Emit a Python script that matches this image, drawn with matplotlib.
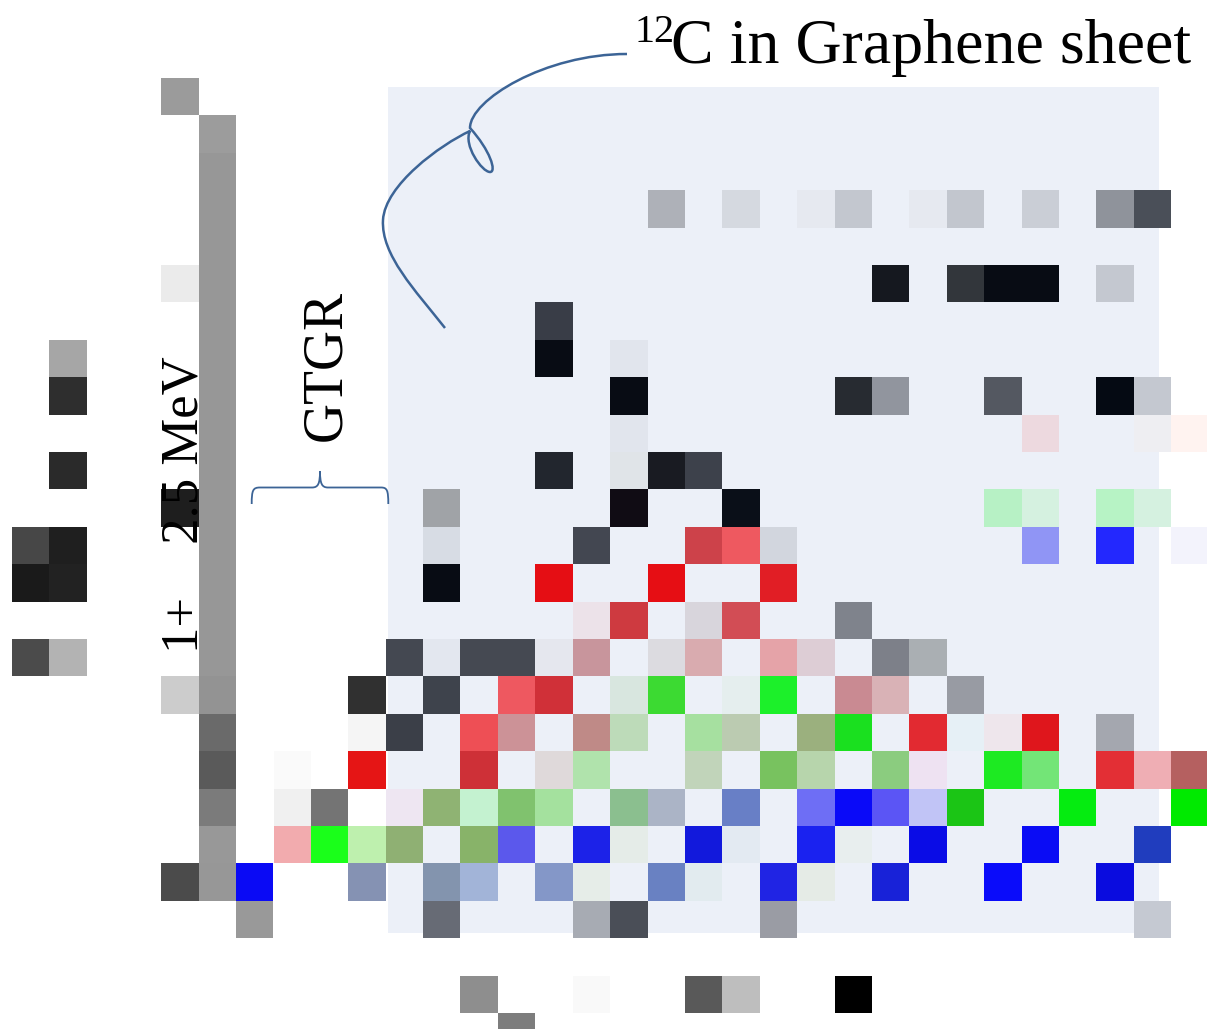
import matplotlib
matplotlib.use("Agg")
import matplotlib.pyplot as plt
from matplotlib.path import Path
from matplotlib.patches import PathPatch, Rectangle

# image size and pixel grid (in picture pixels)
W, H = 1207, 1029
X0, Y0, CELL = 11.7, 78.0, 37.4

# cells per grid row: (column, colour)
row0 = [(4, '#9B9B9B')]
row1 = [(5, '#9C9C9C')]
row2 = [(5, '#979797')]
row3 = [(5, '#979797'), (17, '#AEB1B8'), (19, '#D5D9E0'), (21, '#E6E9F0'), (22, '#C3C7CF'),
        (24, '#E6E9F0'), (25, '#C2C6CE'), (27, '#CACED6'), (29, '#8F939B'), (30, '#4A4F58')]
row4 = [(5, '#979797')]
row5 = [(4, '#EBEBEB'), (5, '#979797'), (23, '#15181F'), (25, '#32363B'), (26, '#080C14'),
        (27, '#080C14'), (29, '#C4C8D0')]
row6 = [(5, '#979797'), (14, '#393D47')]
row7 = [(1, '#A6A6A6'), (5, '#979797'), (14, '#080C14'), (16, '#E1E5ED')]
row8 = [(1, '#2E2E2E'), (5, '#979797'), (16, '#080C14'), (22, '#272B31'), (23, '#91959E'),
        (26, '#545861'), (29, '#050A13'), (30, '#C4C8D0')]
row9 = [(5, '#979797'), (16, '#E1E5ED'), (27, '#EDD9DF'), (30, '#EEEEF2'), (31, '#FFF3F0')]
row10 = [(1, '#2A2A2A'), (5, '#979797'), (14, '#22262E'), (16, '#E0E4E8'), (17, '#191B22'),
         (18, '#3D414B')]
row11 = [(4, '#1E1E1E'), (5, '#979797'), (11, '#A0A3A7'), (16, '#100C14'), (19, '#0A0F18'),
         (26, '#B7F1C5'), (27, '#D5F1E0'), (29, '#B7F3C5'), (30, '#D5F1E0')]
row12 = [(0, '#474747'), (1, '#1F1F1F'), (5, '#979797'), (11, '#D7DCE4'), (15, '#434751'),
         (18, '#CD424A'), (19, '#EE5960'), (20, '#D2D6DE'), (27, '#9095F5'), (29, '#2328FE'),
         (31, '#F3F3FC')]
row13 = [(0, '#1A1A1A'), (1, '#222222'), (5, '#979797'), (11, '#080C14'), (14, '#E50E14'),
         (17, '#E60E14'), (20, '#E11E25')]
row14 = [(5, '#979797'), (15, '#ECE2E9'), (16, '#CE3A40'), (18, '#D8D5DC'), (19, '#D24D55'),
         (22, '#7F838C')]
row15 = [(0, '#4B4B4B'), (1, '#B3B3B3'), (5, '#979797'), (10, '#444851'), (11, '#E3E7EF'),
         (12, '#454952'), (13, '#454952'), (14, '#E5E7EE'), (15, '#C8959C'), (17, '#DCDBE0'),
         (18, '#D9ABAF'), (20, '#E5A3A8'), (21, '#DDCDD5'), (23, '#7D8089'), (24, '#AAAFB3')]
row16 = [(4, '#CCCCCC'), (5, '#939393'), (9, '#303030'), (11, '#3E434C'), (13, '#EE5860'),
         (14, '#D03038'), (16, '#D8E6DF'), (17, '#3CDA32'), (19, '#E5EEEE'), (20, '#1CF02A'),
         (22, '#C98A92'), (23, '#D9B2B6'), (25, '#989BA3')]
row17 = [(5, '#6A6A6A'), (9, '#F5F5F5'), (10, '#3B3F48'), (12, '#EE4F55'), (13, '#CC9297'),
         (15, '#BF8A87'), (16, '#BDDBB9'), (18, '#A6E0A0'), (19, '#BBCBB1'), (21, '#9BB07E'),
         (22, '#1AE01F'), (24, '#E22A31'), (25, '#E6F0F6'), (26, '#EEE6EC'), (27, '#DF161C'),
         (29, '#A4A7AF')]
row18 = [(5, '#5A5A5A'), (7, '#FAFAFA'), (9, '#E51515'), (12, '#CE3037'), (14, '#DFD9DA'),
         (15, '#B0E3AC'), (18, '#C1D4BA'), (20, '#78C25F'), (21, '#B7D5AC'), (23, '#8BCC7F'),
         (24, '#EEE2F2'), (26, '#1DEA22'), (27, '#73E577'), (29, '#E32F35'), (30, '#EFAEB4'),
         (31, '#B56060')]
row19 = [(5, '#7B7B7B'), (7, '#F0F0F0'), (8, '#747474'), (10, '#EEE6F2'), (11, '#8FB373'),
         (12, '#C4F2D0'), (13, '#80C26E'), (14, '#A4E19E'), (16, '#8BBF8F'), (17, '#ABB4C6'),
         (19, '#687FC6'), (21, '#6E6EF5'), (22, '#0A0AF8'), (23, '#5B55F5'), (24, '#C1C4F6'),
         (25, '#1BC515'), (28, '#05EC10'), (31, '#00EA00')]
row20 = [(5, '#989898'), (7, '#F2ABAE'), (8, '#1AFF1A'), (9, '#BEF0AE'), (10, '#8FB073'),
         (12, '#88B369'), (13, '#5B58EC'), (15, '#1C22E8'), (16, '#E5ECE8'), (18, '#1219DC'),
         (19, '#E3EAF2'), (21, '#1A22F0'), (22, '#E8EEEE'), (24, '#0A0CE6'), (27, '#0A0CF5'),
         (30, '#203DBE')]
row21 = [(4, '#4B4B4B'), (5, '#979797'), (6, '#0A0AF5'), (9, '#8592B3'), (11, '#8394AE'),
         (12, '#A2B4D8'), (14, '#8497C8'), (15, '#E6EDE8'), (17, '#6981C2'), (18, '#E2EBEF'),
         (20, '#2024E4'), (21, '#E5EBE6'), (23, '#1822D8'), (26, '#0A0CFA'), (29, '#0A0CDF')]
row22 = [(6, '#999999'), (11, '#676B75'), (15, '#A7ABB3'), (16, '#4A4E57'), (20, '#9A9CA4'),
         (30, '#C5C9D2')]
row23 = []
row24 = [(12, '#8E8E8E'), (15, '#F9F9F9'), (18, '#595959'), (19, '#BEBEBE'), (22, '#000000')]
row25 = [(13, '#7D7D7D')]

grid_rows = [row0, row1, row2, row3, row4, row5, row6, row7, row8, row9, row10, row11, row12,
             row13, row14, row15, row16, row17, row18, row19, row20, row21, row22, row23,
             row24, row25]

fig = plt.figure(figsize=(W / 100, H / 100), dpi=100)

# axes in grid units (one unit = one cell)
ax = fig.add_axes([0, 0, 1, 1])
ax.set_xlim(-X0 / CELL, (W - X0) / CELL)
ax.set_ylim((H - Y0) / CELL, -Y0 / CELL)
ax.axis('off')

# annotation axes in picture pixels
ann = fig.add_axes([0, 0, 1, 1])
ann.set_xlim(0, W)
ann.set_ylim(H, 0)
ann.axis('off')
ann.patch.set_alpha(0)

# light blue panel behind the graphene cells
ax.add_patch(Rectangle((388, 87), 771, 846, transform=ann.transData,
                       facecolor='#ECF0F8', edgecolor='none', zorder=0))

for r, cells in enumerate(grid_rows):
    if not cells:
        continue
    cols = [c for c, _ in cells]
    colors = [col for _, col in cells]
    ax.bar(cols, 1, bottom=r, width=1, align='edge', color=colors,
           edgecolor='none', linewidth=0, zorder=1)

serif = 'Liberation Serif'
line_col = '#3C6496'

ann.text(635, 42, '12', fontsize=29, family=serif, ha='left', va='baseline')
ann.text(671, 63, 'C in Graphene sheet', fontsize=46, family=serif, ha='left', va='baseline')
ann.text(340, 365, 'GTGR', fontsize=40, family=serif, rotation=90,
         rotation_mode='anchor', ha='center', va='baseline')
ann.text(197, 505, '1+    2.5 MeV', fontsize=38, family=serif, rotation=90,
         rotation_mode='anchor', ha='center', va='baseline')

# hand drawn pointer from the label into the panel
verts = [(627, 54), (545, 54), (470, 100), (470, 128),
         (490, 150), (497, 172), (490, 172),
         (482, 172), (463, 145), (470, 131),
         (440, 145), (385, 185), (383, 220),
         (381, 255), (415, 290), (445, 328)]
codes = [Path.MOVETO] + [Path.CURVE4] * 15
ann.add_patch(PathPatch(Path(verts, codes), facecolor='none', edgecolor=line_col, lw=1.8))

# curly brace under GTGR
bverts = [(251.7, 504), (251.7, 490), (253, 487.5), (260, 487.5),
          (312, 487.5),
          (318, 487.5), (320, 484), (320, 471),
          (320, 484), (322, 487.5), (328, 487.5),
          (381, 487.5),
          (387, 487.5), (388.3, 490), (388.3, 504)]
bcodes = ([Path.MOVETO] + [Path.CURVE4] * 3 + [Path.LINETO] + [Path.CURVE4] * 6
          + [Path.LINETO] + [Path.CURVE4] * 3)
ann.add_patch(PathPatch(Path(bverts, bcodes), facecolor='none', edgecolor=line_col, lw=1.3))

fig.savefig('out.png', dpi=100)
